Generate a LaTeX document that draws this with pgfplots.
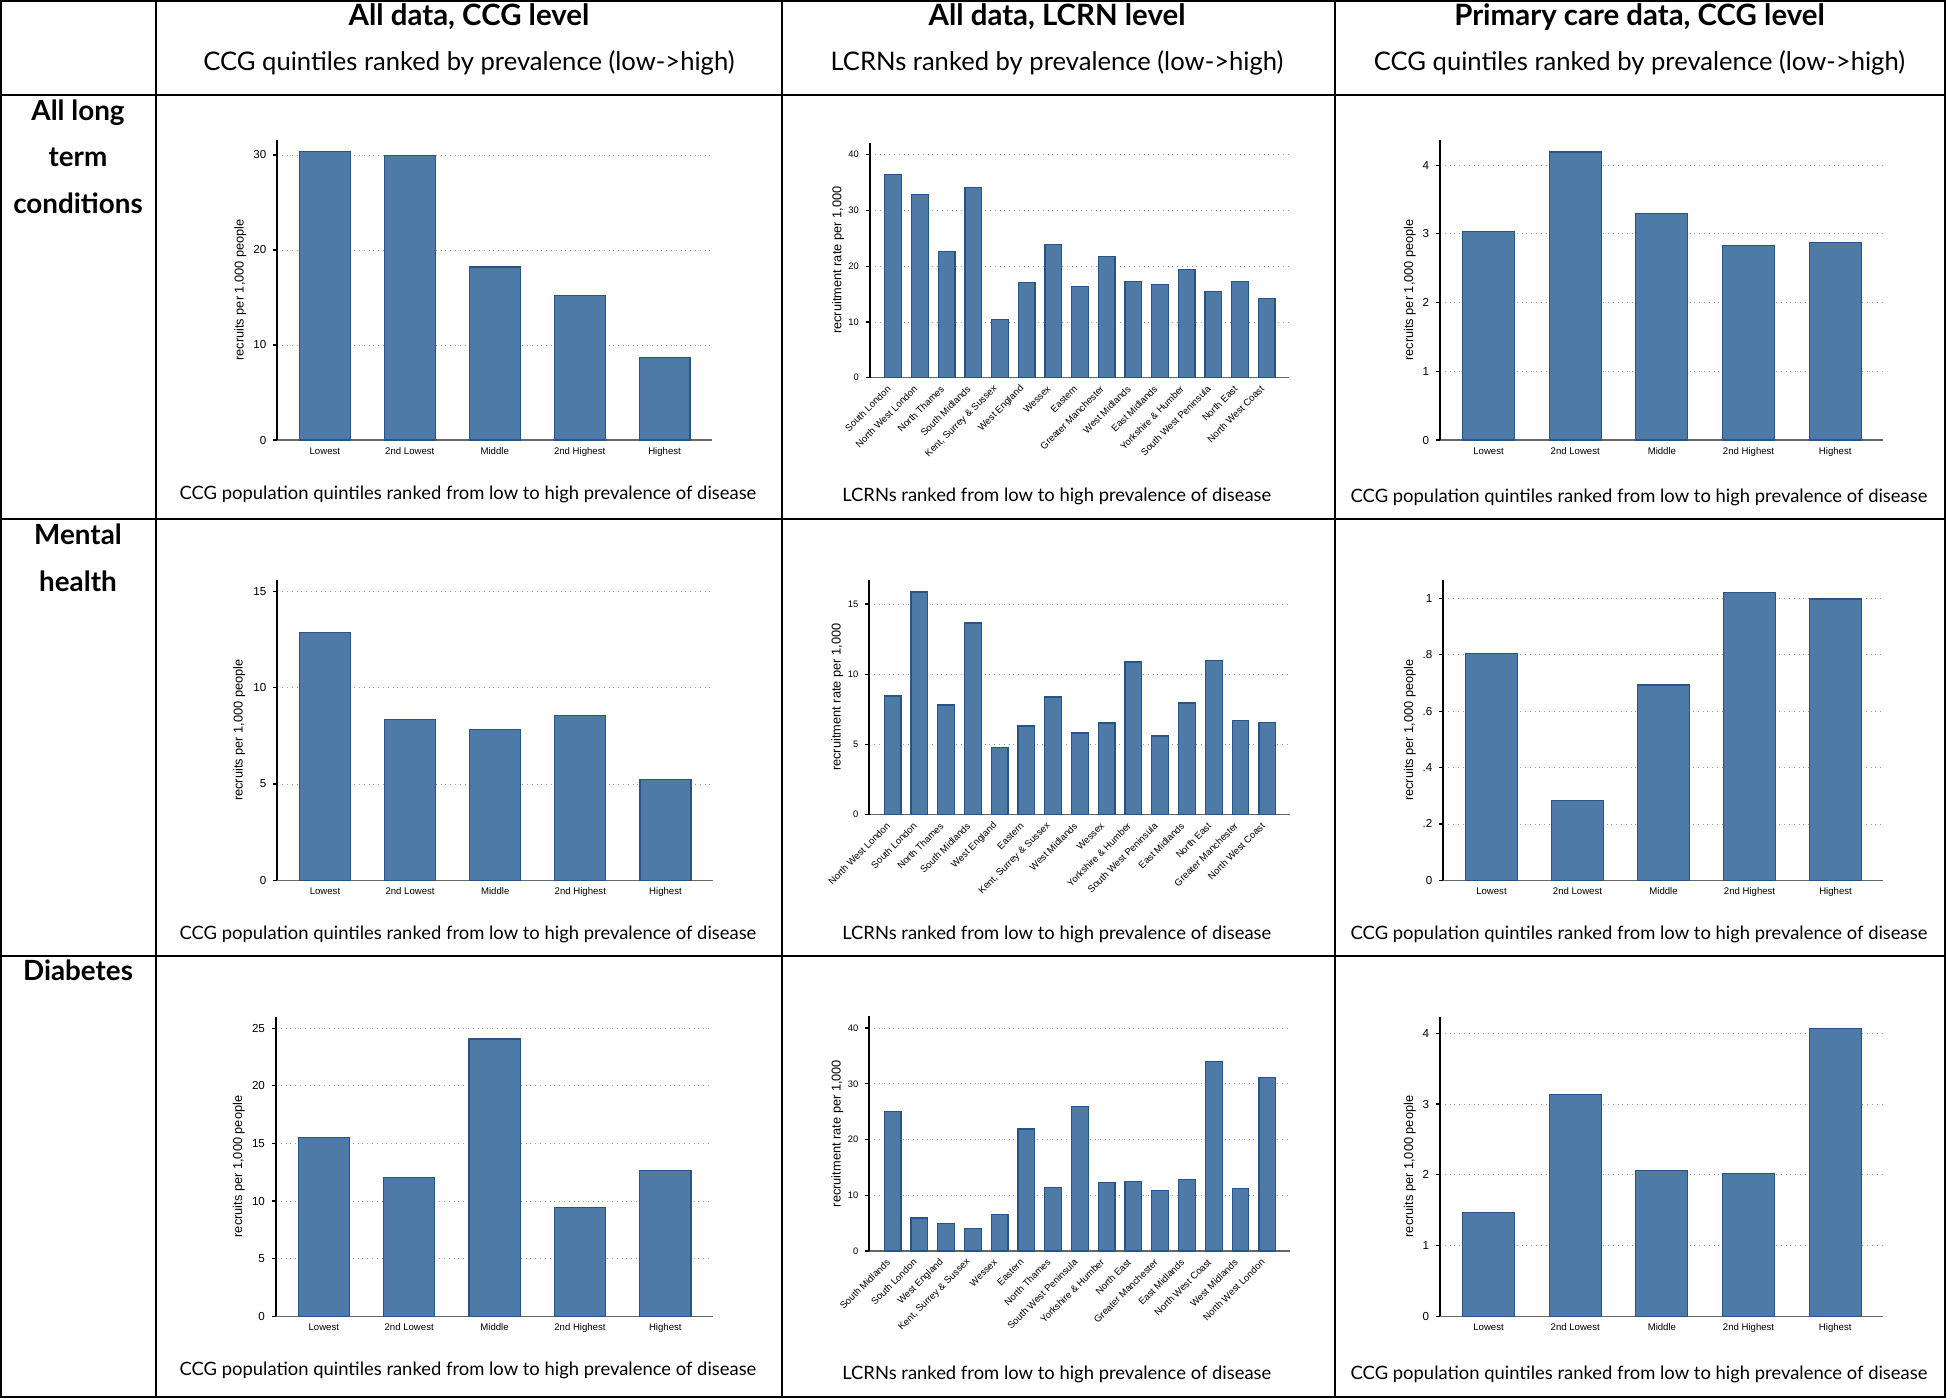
\documentclass[border=0pt]{standalone}
\usepackage{fontspec}
\setmainfont{Lato}
\newfontfamily\arialf{Liberation Sans}
\usepackage{pgfplots}
\pgfplotsset{compat=1.18}

\definecolor{barfill}{RGB}{77,122,166}
\definecolor{bardraw}{RGB}{38,84,136}

\pgfplotsset{
  panel/.style={
    scale only axis, anchor=south west, clip=false,
    ybar, ymin=0, enlarge x limits=false,
    axis x line*=bottom, axis y line*=left,
    x axis line style={draw=gray!80!black, line width=0.65pt, -},
    y axis line style={draw=black, line width=0.85pt, -},
    xtick style={draw=none},
    ytick style={draw=black, line width=0.6pt},
    tick align=outside, major tick length=2pt,
    ymajorgrids, grid style={dotted, gray!80, line width=0.4pt},
    /pgf/number format/assume math mode=true,
  },
  quint/.style={
    panel, bar width=0.6, xmin=-0.56, xmax=4.555,
    xtick={0,...,4},
    xticklabels={Lowest,2nd Lowest,Middle,2nd Highest,Highest},
    xticklabel style={font=\arialf\fontsize{4.8}{5}\selectfont, yshift=1.8pt},
    yticklabel style={font=\arialf\fontsize{5.8}{6}\selectfont},
    ylabel={recruits per 1,000 people},
    ylabel style={font=\arialf\fontsize{6.4}{7}\selectfont, anchor=center},
  },
  lcrn/.style={
    panel, bar width=0.625, xmin=-0.87, xmax=14.85,
    xtick={0,...,14},
    xticklabel style={font=\arialf\fontsize{4.8}{5}\selectfont, rotate=45, anchor=east, yshift=-0.5pt},
    yticklabel style={font=\arialf\fontsize{4.7}{5}\selectfont},
    ylabel={recruitment rate per 1,000},
    ylabel style={font=\arialf\fontsize{6.4}{7}\selectfont, anchor=center,
      at={(axis description cs:-0.076,0.5)}},
  },
  bars/.style={fill=barfill, draw=bardraw, line width=0.6pt},
}

\begin{document}
\begin{tikzpicture}
\useasboundingbox (0,0) rectangle (973pt,-699pt);

% table grid and text
\begin{scope}[x=0.5pt,y=-0.5pt]
  \draw[line width=0.9pt] (0.9,0.9) rectangle (1945.1,1397.1);
  \draw[line width=0.9pt] (156,0) -- (156,1398) (782,0) -- (782,1398) (1335,0) -- (1335,1398);
  \draw[line width=0.9pt] (0,95) -- (1946,95) (0,519) -- (1946,519) (0,956) -- (1946,956);

  \tikzset{hd/.style={font=\bfseries\fontsize{14.7}{16}\selectfont, text height=0.7em, text depth=0pt, inner sep=0pt},
           rowhd/.style={font=\bfseries\fontsize{13.9}{16}\selectfont, text height=0.7em, text depth=0pt, inner sep=0pt},
           sub/.style={font=\fontsize{12.8}{14}\selectfont, text height=0.7em, text depth=0pt, inner sep=0pt},
           captext/.style={font=\fontsize{9.2}{11}\selectfont, text height=0.7em, text depth=0pt, inner sep=0pt}}

  \node[hd] at (469,18) {All data, CCG level};
  \node[hd] at (1057,18) {All data, LCRN level};
  \node[hd] at (1639.5,18) {Primary care data, CCG level};
  \node[sub] at (469,63) {CCG quintiles ranked by prevalence (low->high)};
  \node[sub] at (1057,63) {LCRNs ranked by prevalence (low->high)};
  \node[sub] at (1639.5,63) {CCG quintiles ranked by prevalence (low->high)};

  \node[rowhd] at (78,113) {All long};
  \node[rowhd] at (78,159) {term};
  \node[rowhd] at (78,206) {conditions};
  \node[rowhd] at (78,537.5) {Mental};
  \node[rowhd] at (78,584.5) {health};
  \node[rowhd] at (78,973) {Diabetes};

  \node[captext] at (468,492) {CCG population quintiles ranked from low to high prevalence of disease};
  \node[captext] at (1056.8,494.5) {LCRNs ranked from low to high prevalence of disease};
  \node[captext] at (1639,495.5) {CCG population quintiles ranked from low to high prevalence of disease};
  \node[captext] at (468,932.5) {CCG population quintiles ranked from low to high prevalence of disease};
  \node[captext] at (1056.8,932.5) {LCRNs ranked from low to high prevalence of disease};
  \node[captext] at (1639,932.5) {CCG population quintiles ranked from low to high prevalence of disease};
  \node[captext] at (468,1368.5) {CCG population quintiles ranked from low to high prevalence of disease};
  \node[captext] at (1056.8,1372) {LCRNs ranked from low to high prevalence of disease};
  \node[captext] at (1639,1372) {CCG population quintiles ranked from low to high prevalence of disease};
\end{scope}

% row 1: all long term conditions
\begin{axis}[quint, at={(138.65pt,-220pt)}, width=217.2pt, height=150.15pt,
    ymax=31.6, ytick={0,10,20,30},
    ylabel style={at={(axis description cs:-0.085,0.5)}}]
  \addplot[bars] coordinates {(0,30.35) (1,29.93) (2,18.2) (3,15.2) (4,8.7)};
\end{axis}

\begin{axis}[lcrn, at={(435pt,-188.85pt)}, width=209.65pt, height=117.5pt,
    ymax=42.15, ytick={0,10,20,30,40},
    xticklabels={South London,North West London,North Thames,South Midlands,{Kent, Surrey \& Sussex},West England,Wessex,Eastern,Greater Manchester,West Midlands,East Midlands,Yorkshire \& Humber,South West Peninsula,North East,North West Coast}]
  \addplot[bars] coordinates {(0,36.5) (1,32.9) (2,22.7) (3,34.1) (4,10.5) (5,17.1) (6,23.9) (7,16.3) (8,21.8) (9,17.2) (10,16.7) (11,19.4) (12,15.5) (13,17.2) (14,14.2)};
\end{axis}

\begin{axis}[quint, at={(720pt,-220pt)}, width=221.65pt, height=150.15pt,
    ymax=4.37, ytick={0,1,2,3,4},
    ylabel style={at={(axis description cs:-0.068,0.5)}}]
  \addplot[bars] coordinates {(0,3.035) (1,4.19) (2,3.30) (3,2.83) (4,2.87)};
\end{axis}

% row 2: mental health
\begin{axis}[quint, at={(138.65pt,-440.15pt)}, width=217.7pt, height=150.15pt,
    ymax=15.6, ytick={0,5,10,15},
    ylabel style={at={(axis description cs:-0.087,0.5)}}]
  \addplot[bars] coordinates {(0,12.87) (1,8.36) (2,7.82) (3,8.55) (4,5.25)};
\end{axis}

\begin{axis}[lcrn, at={(434.65pt,-407.35pt)}, width=210.35pt, height=117.55pt,
    ymax=16.74, ytick={0,5,10,15},
    xticklabels={North West London,South London,North Thames,South Midlands,West England,Eastern,{Kent, Surrey \& Sussex},West Midlands,Wessex,Yorkshire \& Humber,South West Peninsula,East Midlands,North East,Greater Manchester,North West Coast}]
  \addplot[bars] coordinates {(0,8.45) (1,15.86) (2,7.81) (3,13.65) (4,4.77) (5,6.31) (6,8.38) (7,5.82) (8,6.53) (9,10.87) (10,5.6) (11,7.95) (12,10.99) (13,6.72) (14,6.55)};
\end{axis}

\begin{axis}[quint, at={(721.65pt,-440.15pt)}, width=220pt, height=150.15pt,
    ymax=1.065, ytick={0,0.2,0.4,0.6,0.8,1}, yticklabels={0,.2,.4,.6,.8,1},
    ylabel style={at={(axis description cs:-0.076,0.5)}}]
  \addplot[bars] coordinates {(0,0.804) (1,0.283) (2,0.693) (3,1.021) (4,0.998)};
\end{axis}

% row 3: diabetes
\begin{axis}[quint, at={(138pt,-658.15pt)}, width=218.35pt, height=149.8pt,
    ymax=26.0, ytick={0,5,10,15,20,25},
    ylabel style={at={(axis description cs:-0.085,0.5)}}]
  \addplot[bars] coordinates {(0,15.51) (1,12.04) (2,24.07) (3,9.43) (4,12.64)};
\end{axis}

\begin{axis}[lcrn, at={(434.65pt,-625.5pt)}, width=210.35pt, height=117.5pt,
    ymax=42.15, ytick={0,10,20,30,40},
    xticklabels={South Midlands,South London,West England,{Kent, Surrey \& Sussex},Wessex,Eastern,North Thames,South West Peninsula,Yorkshire \& Humber,North East,Greater Manchester,East Midlands,North West Coast,West Midlands,North West London}]
  \addplot[bars] coordinates {(0,25.05) (1,5.92) (2,4.9) (3,4.0) (4,6.52) (5,21.9) (6,11.4) (7,25.9) (8,12.26) (9,12.44) (10,10.82) (11,12.8) (12,34.0) (13,11.24) (14,31.15)};
\end{axis}

\begin{axis}[quint, at={(720pt,-658.15pt)}, width=221.65pt, height=149.8pt,
    ymax=4.235, ytick={0,1,2,3,4},
    ylabel style={at={(axis description cs:-0.068,0.5)}}]
  \addplot[bars] coordinates {(0,1.465) (1,3.133) (2,2.064) (3,2.017) (4,4.07)};
\end{axis}
\end{tikzpicture}
\end{document}
